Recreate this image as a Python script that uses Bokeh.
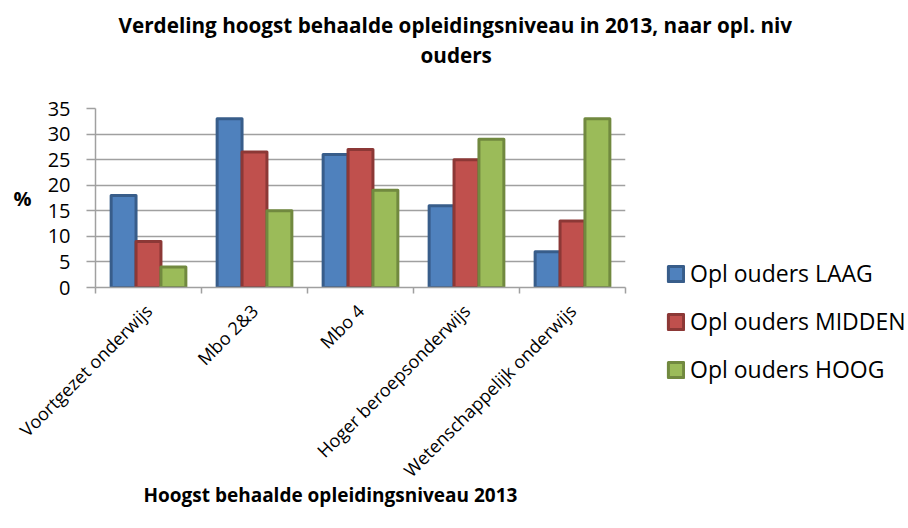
from bokeh.plotting import figure
from bokeh.models import Range1d, FixedTicker, Title, Legend, LegendItem, ColumnDataSource
from bokeh.embed import file_html
from bokeh.resources import INLINE

categories = ["Voortgezet onderwijs", "Mbo 2&3", "Mbo 4", "Hoger beroepsonderwijs", "Wetenschappelijk onderwijs"]
laag = [18, 33, 26, 16, 7]
midden = [9, 26.5, 27, 25, 13]
hoog = [4, 15, 19, 29, 33]
series_names = ["Opl ouders LAAG", "Opl ouders MIDDEN", "Opl ouders HOOG"]
y_ticks = [0, 5, 10, 15, 20, 25, 30, 35]

FONT = "Open Sans"
fills = ["#4F81BD", "#C0504D", "#9BBB59"]
edges = ["#385D8A", "#8C3836", "#71893F"]

p = figure(frame_width=530, frame_height=179, output_backend="svg", toolbar_location=None,
           x_range=Range1d(0, len(categories)), y_range=Range1d(0, 35),
           min_border_left=95, min_border_top=108, min_border_right=283, min_border_bottom=230)
p.outline_line_color = None
p.background_fill_color = "white"
p.border_fill_color = "white"

centers = [i + 0.5 for i in range(len(categories))]
bw = 0.235
offsets = [-bw, 0, bw]
renderers = []
for vals, off, fc, ec in zip([laag, midden, hoog], offsets, fills, edges):
    src = ColumnDataSource(dict(x=[c + off for c in centers], top=vals))
    r = p.vbar(x="x", top="top", bottom=0, width=bw, source=src,
               fill_color=fc, line_color=ec, line_width=3, line_join="round")
    renderers.append(r)

# x axis
p.xaxis.ticker = FixedTicker(ticks=centers, minor_ticks=list(range(len(categories) + 1)))
p.xaxis.major_label_overrides = {c: lab for c, lab in zip(centers, categories)}
p.xaxis.major_tick_line_color = None
p.xaxis.minor_tick_line_color = "#A0A0A0"
p.xaxis.minor_tick_line_width = 1.5
p.xaxis.minor_tick_in = 0
p.xaxis.minor_tick_out = 6
p.xaxis.axis_line_color = "#A0A0A0"
p.xaxis.axis_line_width = 1.5
p.xaxis.major_label_orientation = 0.785398
p.xaxis.major_label_text_font = FONT
p.xaxis.major_label_text_font_size = "18px"
p.xaxis.major_label_text_color = "black"
p.xaxis.major_label_standoff = 14

# y axis
p.yaxis.ticker = FixedTicker(ticks=y_ticks)
p.yaxis.minor_tick_line_color = None
p.yaxis.major_tick_line_color = "#A0A0A0"
p.yaxis.major_tick_line_width = 1.5
p.yaxis.major_tick_in = 0
p.yaxis.major_tick_out = 9
p.yaxis.axis_line_color = "#A0A0A0"
p.yaxis.axis_line_width = 1.5
p.yaxis.major_label_text_font = FONT
p.yaxis.major_label_text_font_size = "20px"
p.yaxis.major_label_text_color = "black"
p.yaxis.major_label_standoff = 16
p.yaxis.axis_label = "%"
p.yaxis.axis_label_orientation = "horizontal"
p.yaxis.axis_label_text_font = FONT
p.yaxis.axis_label_text_font_style = "bold"
p.yaxis.axis_label_text_font_size = "20px"
p.yaxis.axis_label_text_color = "black"
p.yaxis.axis_label_standoff = 13

p.xgrid.grid_line_color = None
p.ygrid.grid_line_color = "#A0A0A0"
p.ygrid.grid_line_width = 1.5

legend = Legend(items=[LegendItem(label=n, renderers=[r]) for n, r in zip(series_names, renderers)],
                location="top_left", glyph_width=19, glyph_height=19, label_standoff=5,
                spacing=16, padding=0, margin=41, border_line_color=None,
                background_fill_alpha=0, label_text_font=FONT, label_text_font_size="23px",
                label_text_color="black",
                title="\u00a0", title_text_font_size="10px", title_standoff=97)
p.add_layout(legend, "right")

def mk_title(text, offset, size, standoff):
    return Title(text=text, align="left", offset=offset, text_font=FONT,
                 text_font_style="bold", text_font_size=size, text_color="black",
                 standoff=standoff)

# above: spacer (closest to frame), then the two title lines
p.add_layout(Title(text="\u00a0", text_font_size="1px", standoff=36.6), "above")
p.add_layout(mk_title("ouders", 325, "20.7px", 0), "above")
p.add_layout(mk_title("Verdeling hoogst behaalde opleidingsniveau in 2013, naar opl. niv", 23, "20.7px", 0), "above")
p.add_layout(mk_title("Hoogst behaalde opleidingsniveau 2013", 48, "19px", -29), "below")

open("out.html", "w").write(file_html(p, INLINE))
